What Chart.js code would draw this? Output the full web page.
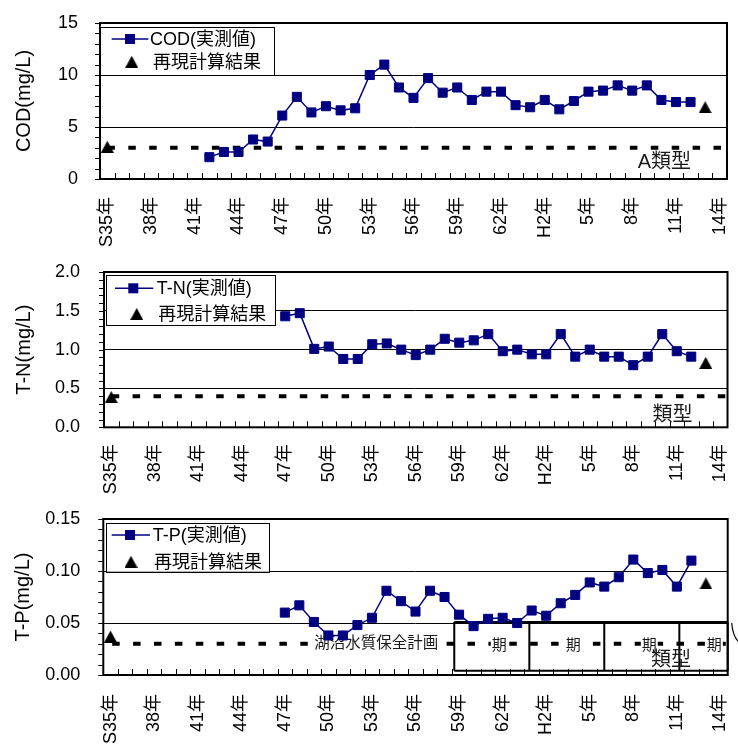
<!DOCTYPE html>
<html>
<head>
<meta charset="utf-8">
<script src="https://cdn.jsdelivr.net/npm/chart.js@4.4.1/dist/chart.umd.min.js"></script>
<style>
  html, body { margin: 0; padding: 0; background: #fff; }
  #wrap { position: relative; width: 738px; height: 744px; overflow: hidden; background: #fff; }
  .panel { position: absolute; left: 0; width: 738px; }
  canvas { display: block; }
</style>
</head>
<body>
<div id="wrap">
  <div class="panel" style="top:0;height:250px"><canvas id="cCOD" width="738" height="250"></canvas></div>
  <div class="panel" style="top:250px;height:250px"><canvas id="cTN" width="738" height="250"></canvas></div>
  <div class="panel" style="top:500px;height:244px"><canvas id="cTP" width="738" height="244"></canvas></div>
</div>
<script>
// ---- survey years S35 (1960) .. H14 (2002) ----
const years = [
  'S35','S36','S37','S38','S39','S40','S41','S42','S43','S44',
  'S45','S46','S47','S48','S49','S50','S51','S52','S53','S54',
  'S55','S56','S57','S58','S59','S60','S61','S62','S63','H1',
  'H2','H3','H4','H5','H6','H7','H8','H9','H10','H11',
  'H12','H13','H14'
];
const tickLabels = ['S35年','38年','41年','44年','47年','50年','53年','56年','59年','62年','H2年','5年','8年','11年','14年'];
const tickEvery = 3;

// ---- observed annual means ----
const codFrom = 'S42';
const codObserved = [2.1, 2.6, 2.6, 3.8, 3.6, 6.1, 7.9, 6.4, 7.0, 6.6,
                     6.8, 10.0, 11.0, 8.8, 7.8, 9.7, 8.3, 8.8, 7.6, 8.4,
                     8.4, 7.1, 6.9, 7.6, 6.7, 7.5, 8.4, 8.5, 9.0, 8.5,
                     9.0, 7.6, 7.4, 7.4];
const tnFrom = 'S47';
const tnObserved = [1.43, 1.47, 1.01, 1.04, 0.88, 0.88, 1.07, 1.08, 1.00, 0.93,
                    1.00, 1.14, 1.09, 1.12, 1.20, 0.98, 1.00, 0.94, 0.94, 1.20,
                    0.91, 1.00, 0.91, 0.91, 0.80, 0.91, 1.20, 0.98, 0.91];
const tpFrom = 'S47';
const tpObserved = [0.060, 0.067, 0.051, 0.038, 0.038, 0.048, 0.055, 0.081, 0.071, 0.061,
                    0.081, 0.075, 0.058, 0.047, 0.054, 0.055, 0.050, 0.062, 0.057, 0.069,
                    0.077, 0.089, 0.085, 0.094, 0.111, 0.098, 0.101, 0.085, 0.110];

// ---- recalculated values ----
const recalcYears = ['S35', 'H13'];
const codRecalc = [3.1, 6.9];
const tnRecalc = [0.39, 0.83];
const tpRecalc = [0.037, 0.088];

// ---- environmental standards (dashed lines) ----
const codStandard = 3.0;
const tnStandard = 0.4;
const tpStandard = 0.03;

// ---- conservation plan period boundaries, in category-edge units ----
const planEdges = [24.17, 29.34, 34.5, 39.67, 43.0];

const FONT = "'Liberation Sans', Arial, 'Noto Sans CJK JP', sans-serif";
const NAVY = '#000080';

function series(from, values) {
  const out = years.map(() => null);
  const s = years.indexOf(from);
  values.forEach((v, i) => { out[s + i] = v; });
  return out;
}
function picks(keys, values) {
  const out = years.map(() => null);
  keys.forEach((k, i) => { out[years.indexOf(k)] = values[i]; });
  return out;
}

// triangle marker, centred on its bounding box
const tri = document.createElement('canvas');
tri.width = 13; tri.height = 12;
(function () {
  const c = tri.getContext('2d');
  c.fillStyle = '#000';
  c.beginPath(); c.moveTo(6.5, 0); c.lineTo(13, 12); c.lineTo(0, 12); c.closePath(); c.fill();
})();

const decor = {
  id: 'decor',
  beforeDatasetsDraw(chart, args, o) {
    const { ctx, chartArea: a, scales: { x, y } } = chart;
    const ex = e => x.getPixelForValue(e - 0.5);
    ctx.save();
    // standard line
    const ys = y.getPixelForValue(o.standard);
    ctx.strokeStyle = '#000';
    ctx.lineWidth = 4;
    ctx.setLineDash([7.5, 13.4]);
    ctx.lineDashOffset = o.dashPhase;
    ctx.beginPath(); ctx.moveTo(a.left, ys); ctx.lineTo(a.right, ys); ctx.stroke();
    ctx.setLineDash([]);
    // plan periods
    if (o.periods) {
      const p = o.periods;
      const T = y.getPixelForValue(p.top), B = y.getPixelForValue(p.bottom);
      const xs = p.edges.map(ex);
      ctx.lineWidth = 2;
      ctx.strokeStyle = '#000';
      ctx.beginPath();
      ctx.moveTo(xs[0], T); ctx.lineTo(xs[xs.length - 1], T);
      ctx.moveTo(xs[0], B); ctx.lineTo(xs[xs.length - 1], B);
      xs.forEach(px => { ctx.moveTo(px, T); ctx.lineTo(px, B); });
      ctx.stroke();
      const R = xs[xs.length - 1];
      ctx.lineWidth = 1.2;
      ctx.beginPath(); ctx.moveTo(R + 4, T + 1); ctx.quadraticCurveTo(R + 5, T + 14, R + 11, T + 20); ctx.stroke();
    }
    // notes
    (o.notes || []).forEach(n => {
      ctx.font = n.size + 'px ' + FONT;
      const px = ex(n.at), py = y.getPixelForValue(n.value);
      const w = ctx.measureText(n.text).width;
      if (n.bg) {
        ctx.fillStyle = '#fff';
        ctx.fillRect(px - w / 2 - 1, py - n.size / 2 - 1, w + 2, n.size + 2);
      }
      ctx.fillStyle = '#1a1a1a';
      ctx.textAlign = 'center';
      ctx.textBaseline = 'middle';
      ctx.fillText(n.text, px, py);
    });
    ctx.restore();
  },
  afterDatasetsDraw(chart, args, o) {
    const { ctx, chartArea: a, scales: { x, y } } = chart;
    const ex = e => x.getPixelForValue(e - 0.5);
    ctx.save();
    // category tick marks (inward)
    ctx.strokeStyle = '#000';
    ctx.lineWidth = 1;
    ctx.beginPath();
    for (let i = 1; i < years.length; i++) {
      const px = Math.round(ex(i)) + 0.5;
      ctx.moveTo(px, a.bottom); ctx.lineTo(px, a.bottom - 6);
    }
    // minor value ticks (outward)
    const n = Math.round((y.max - y.min) / o.minor);
    for (let k = 0; k <= n; k++) {
      const py = Math.round(y.getPixelForValue(y.min + k * o.minor)) + 0.5;
      ctx.moveTo(a.left - 5, py); ctx.lineTo(a.left, py);
    }
    ctx.stroke();
    // plot frame
    ctx.lineWidth = 2;
    ctx.strokeRect(a.left, a.top, a.right - a.left, a.bottom - a.top);

    // legend
    const L = o.legend;
    const d0 = chart.data.datasets[0], d1 = chart.data.datasets[1];
    const bx = a.left + L.box[0], by = a.top + L.box[1];
    ctx.fillStyle = '#fff';
    ctx.fillRect(bx, by, L.box[2], L.box[3]);
    ctx.strokeStyle = '#000';
    ctx.lineWidth = 1;
    ctx.strokeRect(Math.round(bx) + 0.5, Math.round(by) + 0.5, Math.round(L.box[2]), Math.round(L.box[3]));
    const r1 = a.top + L.rows[0], r2 = a.top + L.rows[1];
    ctx.strokeStyle = d0.borderColor;
    ctx.lineWidth = 1.5;
    ctx.beginPath(); ctx.moveTo(a.left + L.line[0], r1); ctx.lineTo(a.left + L.line[1], r1); ctx.stroke();
    ctx.fillStyle = d0.borderColor;
    ctx.fillRect(a.left + L.mark[0] - 5, r1 - 5, 10, 10);
    ctx.drawImage(tri, a.left + L.mark[1] - tri.width / 2, r2 - tri.height / 2);
    ctx.fillStyle = '#000';
    ctx.font = '18px ' + FONT;
    ctx.textAlign = 'left';
    ctx.textBaseline = 'middle';
    ctx.fillText(d0.label, a.left + L.text[0], r1 + 1);
    ctx.fillText(d1.label, a.left + L.text[1], r2 + 1);
    ctx.restore();
  }
};

function makeChart(id, p) {
  return new Chart(document.getElementById(id), {
    type: 'line',
    data: {
      labels: years,
      datasets: [
        {
          label: p.name, data: p.observed,
          borderColor: NAVY, backgroundColor: NAVY, borderWidth: 1.5,
          pointStyle: 'rect', pointRadius: 6.4, pointBorderWidth: 1,
          pointBackgroundColor: NAVY, pointBorderColor: NAVY,
          spanGaps: false, tension: 0
        },
        {
          label: '再現計算結果', data: p.recalc, showLine: false,
          pointStyle: tri, pointRadius: 6,
          borderColor: '#000', backgroundColor: '#000'
        }
      ]
    },
    options: {
      responsive: false, animation: false, devicePixelRatio: 1,
      layout: { padding: { left: 0, top: p.top, right: 738 - p.right, bottom: 0 } },
      plugins: {
        legend: { display: false },
        tooltip: { enabled: false },
        decor: p.decor
      },
      scales: {
        x: {
          type: 'category', offset: true,
          grid: { display: false }, border: { display: false },
          ticks: {
            autoSkip: false, minRotation: 90, maxRotation: 90, padding: p.labelPad,
            color: '#000', font: { family: FONT, size: 18 },
            callback: (v, i) => (i % tickEvery === 0 ? tickLabels[i / tickEvery] : '')
          },
          afterFit: s => { s.height = p.height - p.bottom; s.paddingLeft = 0; s.paddingRight = 0; }
        },
        y: {
          min: p.min, max: p.max,
          ticks: {
            stepSize: p.step, padding: p.tickPad, color: '#000',
            font: { family: FONT, size: 18 },
            callback: v => v.toFixed(p.digits)
          },
          grid: { color: '#000', lineWidth: 1, drawTicks: false },
          border: { display: false },
          title: {
            display: true, text: p.title, color: '#000',
            font: { family: FONT, size: 20 }, padding: { top: p.titlePad, bottom: 0 }
          },
          afterFit: s => { s.width = p.left; s.paddingTop = 0; s.paddingBottom = 0; }
        }
      }
    },
    plugins: [decor]
  });
}

makeChart('cCOD', {
  name: 'COD(実測値)', title: 'COD(mg/L)',
  observed: series(codFrom, codObserved), recalc: picks(recalcYears, codRecalc),
  height: 250, top: 23, bottom: 179, left: 100, right: 727,
  min: 0, max: 15, step: 5, digits: 0, tickPad: 22, titlePad: 12, labelPad: 10,
  decor: {
    standard: codStandard, dashPhase: 13.5, minor: 1,
    notes: [{ text: 'A類型', at: 38.7, value: 1.54, size: 20 }],
    legend: { box: [0, 3.7, 174, 48.3], rows: [16, 38.7], line: [11.7, 48.3], mark: [30, 31.7], text: [50, 53] }
  }
});

makeChart('cTN', {
  name: 'T-N(実測値)', title: 'T-N(mg/L)',
  observed: series(tnFrom, tnObserved), recalc: picks(recalcYears, tnRecalc),
  height: 250, top: 22, bottom: 177.3, left: 104, right: 727.5,
  min: 0, max: 2, step: 0.5, digits: 1, tickPad: 24, titlePad: 12, labelPad: 9,
  decor: {
    standard: tnStandard, dashPhase: 13.2, minor: 0.1,
    notes: [{ text: '類型', at: 39.2, value: 0.158, size: 20 }],
    legend: { box: [1.7, 3, 169.3, 50], rows: [16.3, 42], line: [11, 49.3], mark: [29.3, 32.7], text: [52.7, 54.3] }
  }
});

makeChart('cTP', {
  name: 'T-P(実測値)', title: 'T-P(mg/L)',
  observed: series(tpFrom, tpObserved), recalc: picks(recalcYears, tpRecalc),
  height: 244, top: 19, bottom: 175, left: 103.3, right: 727.7,
  min: 0, max: 0.15, step: 0.05, digits: 2, tickPad: 23, titlePad: 11, labelPad: 11,
  decor: {
    standard: tpStandard, dashPhase: 12, minor: 0.01,
    periods: { edges: planEdges, top: 0.051, bottom: 0.004 },
    notes: [
      { text: '湖沼水質保全計画', at: 18.8, value: 0.03, size: 15.5, bg: true },
      { text: '期', at: 27.27, value: 0.028, size: 15, bg: true },
      { text: '期', at: 32.37, value: 0.028, size: 15, bg: true },
      { text: '期', at: 37.6, value: 0.028, size: 15, bg: true },
      { text: '期', at: 42.08, value: 0.028, size: 15, bg: true },
      { text: '類型', at: 39.1, value: 0.0138, size: 20 }
    ],
    legend: { box: [2.7, 3.7, 163.3, 49], rows: [16, 42.7], line: [8.4, 46.7], mark: [26.7, 27.7], text: [49.4, 50.7] }
  }
});
</script>
</body>
</html>
